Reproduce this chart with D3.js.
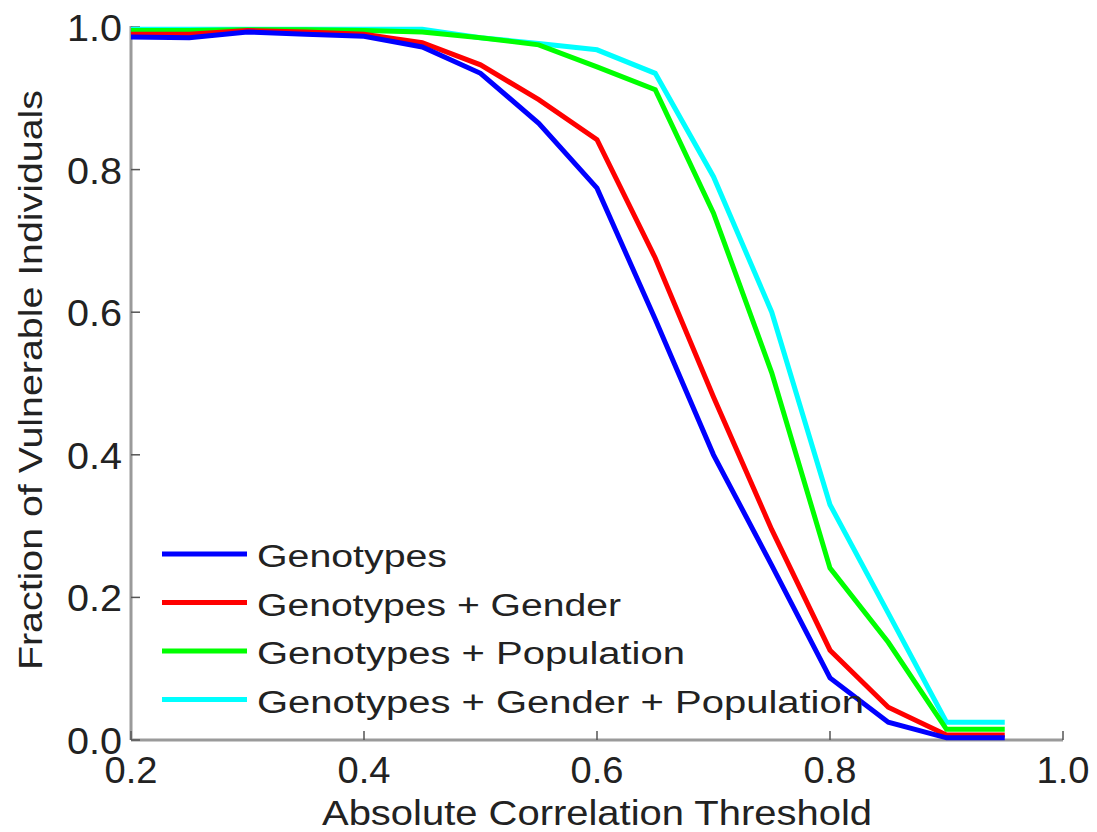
<!DOCTYPE html>
<html>
<head>
<meta charset="utf-8">
<script src="https://cdn.jsdelivr.net/npm/d3@7"></script>
<style>
  body { margin: 0; background: #fff; }
  text { font-family: "Liberation Sans", Arial, sans-serif; fill: #222; }
</style>
</head>
<body>
<div id="chart"></div>
<script>
// thresholds on the x axis
const thresholds = [0.2, 0.25, 0.3, 0.35, 0.4, 0.45, 0.5, 0.55, 0.6, 0.65, 0.7, 0.75, 0.8, 0.85, 0.9, 0.95];

const genotypes = [0.986, 0.985, 0.993, 0.99, 0.987, 0.972, 0.935, 0.865, 0.774, 0.59, 0.40, 0.245, 0.087, 0.025, 0.003, 0.003];
const genoGender = [0.99, 0.99, 0.995, 0.993, 0.99, 0.978, 0.947, 0.898, 0.842, 0.676, 0.481, 0.295, 0.126, 0.046, 0.007, 0.007];
const genoPop = [0.995, 0.995, 0.996, 0.996, 0.995, 0.993, 0.985, 0.975, 0.944, 0.912, 0.739, 0.515, 0.241, 0.137, 0.015, 0.015];
const genoGenderPop = [0.997, 0.997, 0.997, 0.997, 0.997, 0.997, 0.985, 0.977, 0.968, 0.935, 0.79, 0.60, 0.33, 0.178, 0.025, 0.025];

const seriesNames = ["Genotypes", "Genotypes + Gender", "Genotypes + Population", "Genotypes + Gender + Population"];
const seriesColors = ["#0000ff", "#ff0000", "#00ff00", "#00ffff"];
const seriesValues = [genotypes, genoGender, genoPop, genoGenderPop];

const xTicks = [0.2, 0.4, 0.6, 0.8, 1.0];
const yTicks = [0.0, 0.2, 0.4, 0.6, 0.8, 1.0];

const W = 1097, H = 832;

var svg = d3.select("#chart")
  .append("svg")
  .attr("width", W)
  .attr("height", H);

var x = d3.scaleLinear().domain([0.2, 1.0]).range([131, 1063]);
var y = d3.scaleLinear().domain([0, 1]).range([740, 27]);

// axis lines (gray, only left and bottom)
svg.append("line")
  .attr("x1", x(0.2)).attr("x2", x(0.2))
  .attr("y1", y(1) - 1).attr("y2", y(0))
  .attr("stroke", "#9a9a9a").attr("stroke-width", 3);
svg.append("line")
  .attr("x1", x(0.2)).attr("x2", x(1.0))
  .attr("y1", y(0)).attr("y2", y(0))
  .attr("stroke", "#9a9a9a").attr("stroke-width", 3);

// ticks, pointing inward
svg.selectAll(".xtick")
  .data(xTicks)
  .enter().append("line")
  .attr("x1", d => x(d)).attr("x2", d => x(d))
  .attr("y1", y(0)).attr("y2", y(0) - 9)
  .attr("stroke", "#555").attr("stroke-width", 1.5);
svg.selectAll(".ytick")
  .data(yTicks)
  .enter().append("line")
  .attr("x1", x(0.2)).attr("x2", x(0.2) + 9)
  .attr("y1", d => y(d)).attr("y2", d => y(d))
  .attr("stroke", "#555").attr("stroke-width", 1.5);

// tick labels
svg.selectAll(".xlab")
  .data(xTicks)
  .enter().append("text")
  .attr("x", d => x(d))
  .attr("y", 783)
  .attr("text-anchor", "middle")
  .style("font-size", "36px")
  .attr("textLength", 53)
  .attr("lengthAdjust", "spacingAndGlyphs")
  .text(d => d.toFixed(1));

svg.selectAll(".ylab")
  .data(yTicks)
  .enter().append("text")
  .attr("x", 122)
  .attr("y", d => y(d) + 14)
  .attr("text-anchor", "end")
  .style("font-size", "37px")
  .attr("textLength", 55)
  .attr("lengthAdjust", "spacingAndGlyphs")
  .text(d => d.toFixed(1));

// axis titles
svg.append("text")
  .attr("x", 597)
  .attr("y", 825)
  .attr("text-anchor", "middle")
  .style("font-size", "35px")
  .attr("textLength", 550)
  .attr("lengthAdjust", "spacingAndGlyphs")
  .text("Absolute Correlation Threshold");

svg.append("text")
  .attr("transform", "translate(42,380) rotate(-90)")
  .attr("text-anchor", "middle")
  .style("font-size", "34px")
  .attr("textLength", 580)
  .attr("lengthAdjust", "spacingAndGlyphs")
  .text("Fraction of Vulnerable Individuals");

// lines
var line = d3.line()
  .x((d, i) => x(thresholds[i]))
  .y(d => y(d));

// draw cyan first so blue sits on top
for (let k = seriesValues.length - 1; k >= 0; k--) {
  svg.append("path")
    .datum(seriesValues[k])
    .attr("fill", "none")
    .attr("stroke", seriesColors[k])
    .attr("stroke-width", 5)
    .attr("stroke-linejoin", "miter")
    .attr("d", line);
}

// legend
var legendWidths = [190, 364, 428, 607];
var legend = svg.append("g");
seriesNames.forEach(function(name, i) {
  let ly = 554 + i * 48.5;
  legend.append("line")
    .attr("x1", 162).attr("x2", 247)
    .attr("y1", ly).attr("y2", ly)
    .attr("stroke", seriesColors[i])
    .attr("stroke-width", 5);
  legend.append("text")
    .attr("x", 257)
    .attr("y", ly + 13)
    .style("font-size", "31px")
    .attr("textLength", legendWidths[i])
    .attr("lengthAdjust", "spacingAndGlyphs")
    .text(name);
});
</script>
</body>
</html>
